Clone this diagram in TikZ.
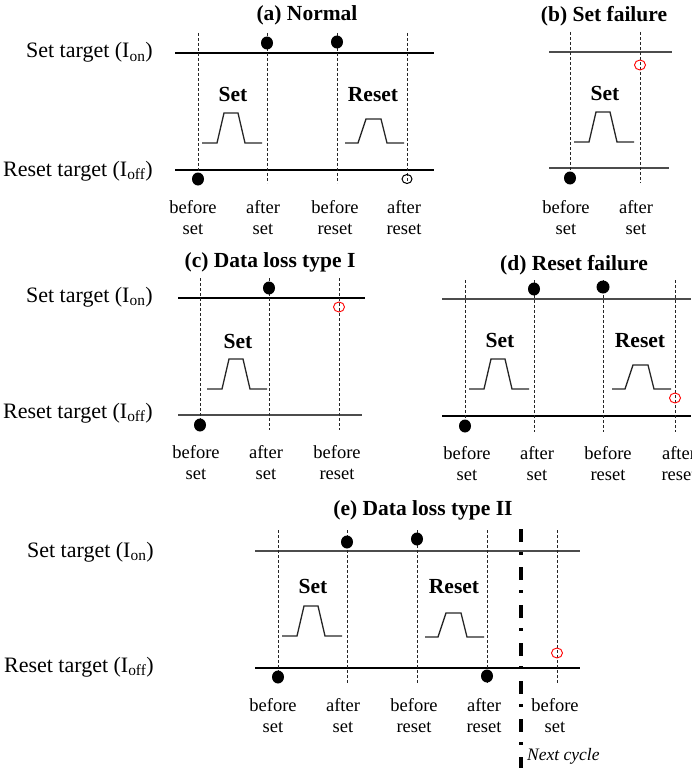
\documentclass[tikz,border=0pt]{standalone}
\usepackage{fontspec}
\setmainfont{Liberation Serif}

\begin{document}
\begin{tikzpicture}[x=1pt,y=-1pt,
  lvl/.style={line width=2pt},
  thinlvl/.style={line width=1.2pt,black!70},
  guide/.style={dash pattern=on 3pt off 2pt,line width=1pt,black!85},
  pulse/.style={line width=1.3pt,black!85},
  bit/.style={fill=black},
  lost/.style={draw=red,line width=.9pt},
  tgt/.style={anchor=base east,inner sep=0pt,font=\fontsize{22}{26}\selectfont},
  ttl/.style={anchor=base,inner sep=0pt,font=\fontsize{21.5}{26}\selectfont\bfseries},
  op/.style={anchor=base,inner sep=0pt,font=\fontsize{21.5}{26}\selectfont\bfseries},
  state/.style={anchor=north,inner sep=0pt,align=center,font=\fontsize{18.5}{21}\selectfont},
  setpulse/.pic={\draw[pulse] (0,0)--(15,0)--(22,-30)--(36,-30)--(43,0)--(60,0);},
  resetpulse/.pic={\draw[pulse] (0,0)--(13,0)--(21,-24)--(36,-24)--(42,0)--(59,0);}]
\clip (0,0) rectangle (691,768);
% (a)
\node[ttl] (ta) at (307,21) {(a) Normal};
\node[tgt] (ona) at (153,58) {Set target (I\textsubscript{on})};
\node[tgt] (offa) at (153,176) {Reset target (I\textsubscript{off})};
\draw[lvl] (175,53)--(434,53);
\draw[lvl] (175,170)--(434,170);
\foreach \x in {198,267,337,407} \draw[guide] (\x,33)--(\x,183);
\pic at (202,143) {setpulse};
\pic at (345,143) {resetpulse};
\node[op] (seta) at (233,101) {Set};
\node[op] (reseta) at (373,101) {Reset};
\fill[bit] (267,43) ellipse [x radius=6pt,y radius=6.5pt];
\fill[bit] (337,42) ellipse [x radius=6pt,y radius=6.5pt];
\fill[bit] (198,179) ellipse [x radius=6pt,y radius=6.5pt];
\draw[line width=1pt] (407,179) ellipse [x radius=5pt,y radius=4.5pt];
\node[state] (a1) at (193,200) {before\\set};
\node[state] (a2) at (263,200) {after\\set};
\node[state] (a3) at (335,200) {before\\reset};
\node[state] (a4) at (404,200) {after\\reset};
% (b)
\node[ttl] (tb) at (604,22) {(b) Set failure};
\draw[thinlvl] (549,52)--(672,52);
\draw[thinlvl] (549,168)--(669,168);
\foreach \x in {570,640} \draw[guide] (\x,32)--(\x,183);
\pic at (574,142) {setpulse};
\node[op] (setb) at (605,100) {Set};
\fill[bit] (570,178) ellipse [x radius=6pt,y radius=6.5pt];
\draw[lost] (640,65) ellipse [x radius=5.5pt,y radius=5pt];
\node[state] (b1) at (566,200) {before\\set};
\node[state] (b2) at (636,200) {after\\set};
% (c)
\node[ttl] (tc) at (270,267) {(c) Data loss type I};
\node[tgt] (onc) at (153,302) {Set target (I\textsubscript{on})};
\node[tgt] (offc) at (153,418) {Reset target (I\textsubscript{off})};
\draw[lvl] (178,298)--(365,298);
\draw[thinlvl] (178,415)--(362,415);
\foreach \x in {200,269,339} \draw[guide] (\x,278)--(\x,430);
\pic at (207,389) {setpulse};
\node[op] (setc) at (238,348) {Set};
\fill[bit] (269,288) ellipse [x radius=6pt,y radius=6.5pt];
\fill[bit] (200,425) ellipse [x radius=6pt,y radius=6.5pt];
\draw[lost] (339,307) ellipse [x radius=5.5pt,y radius=5pt];
\node[state] (c1) at (196,445) {before\\set};
\node[state] (c2) at (266,445) {after\\set};
\node[state] (c3) at (337,445) {before\\reset};
% (d)
\node[ttl] (td) at (574,270) {(d) Reset failure};
\draw[thinlvl] (442,299)--(691,299);
\draw[lvl] (442,416)--(691,416);
\foreach \x in {465,534,603,675} \draw[guide] (\x,280)--(\x,432);
\pic at (469,389) {setpulse};
\pic at (612,389) {resetpulse};
\node[op] (setd) at (500,347) {Set};
\node[op] (resetd) at (640,347) {Reset};
\fill[bit] (534,289) ellipse [x radius=6pt,y radius=6.5pt];
\fill[bit] (603,287) ellipse [x radius=6.5pt,y radius=6.5pt];
\fill[bit] (465,426) ellipse [x radius=6pt,y radius=6.5pt];
\draw[lost] (675,398) ellipse [x radius=5.5pt,y radius=5pt];
\node[state] (d1) at (467,446) {before\\set};
\node[state] (d2) at (537,446) {after\\set};
\node[state] (d3) at (608,446) {before\\reset};
\node[state] (d4) at (679,446) {after\\reset};
% (e)
\node[ttl] (te) at (423,515) {(e) Data loss type II};
\node[tgt] (one) at (154,557) {Set target (I\textsubscript{on})};
\node[tgt] (offe) at (154,672) {Reset target (I\textsubscript{off})};
\draw[thinlvl] (255,551)--(580,551);
\draw[lvl] (255,668)--(580,668);
\foreach \x in {278,347,417,487,557} \draw[guide] (\x,530)--(\x,683);
\pic at (282,636) {setpulse};
\pic at (425,637) {resetpulse};
\node[op] (sete) at (313,593) {Set};
\node[op] (resete) at (454,593) {Reset};
\fill[bit] (347,542) ellipse [x radius=6pt,y radius=6.5pt];
\fill[bit] (417,539) ellipse [x radius=6pt,y radius=6.5pt];
\fill[bit] (278,677) ellipse [x radius=6pt,y radius=6.5pt];
\fill[bit] (487,676) ellipse [x radius=6pt,y radius=6.5pt];
\draw[lost] (557,653) ellipse [x radius=5.5pt,y radius=5pt];
\draw[line width=3.5pt,dash pattern=on 13pt off 10pt on 3pt off 12pt] (521,529)--(521,768);
\node[state] (e1) at (273,698) {before\\set};
\node[state] (e2) at (343,698) {after\\set};
\node[state] (e3) at (414,698) {before\\reset};
\node[state] (e4) at (484,698) {after\\reset};
\node[state] (e5) at (555,698) {before\\set};
\node[anchor=base west,inner sep=0pt,font=\fontsize{17.5}{20}\selectfont\itshape] (nxt) at (527,760) {Next cycle};
\end{tikzpicture}
\end{document}
